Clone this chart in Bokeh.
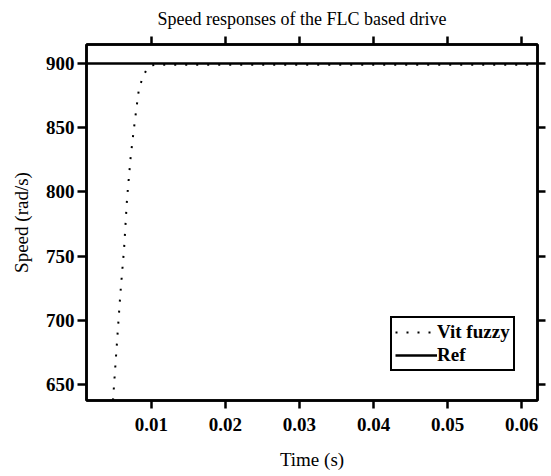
from bokeh.plotting import figure
from bokeh.models import (Range1d, FixedTicker, LinearAxis, Legend, LegendItem, Title)
from bokeh.embed import file_html
from bokeh.resources import INLINE

# ---- data ----
t_fuzzy = [0.0047, 0.0049, 0.0054, 0.0058, 0.0063, 0.0067, 0.0072, 0.0076, 0.0079,
           0.0083, 0.0088, 0.0094, 0.0099, 0.0105, 0.020, 0.030, 0.040, 0.050, 0.060, 0.0625]
speed_fuzzy = [629, 646, 688, 721, 756, 795, 828, 848, 862,
               880, 889, 896, 898.5, 899, 899, 899, 899, 899, 899, 899]
t_ref = [0.0, 0.0625]
speed_ref = [900, 900]
x_ticks = [0.01, 0.02, 0.03, 0.04, 0.05, 0.06]
y_ticks = [650, 700, 750, 800, 850, 900]
title_text = "Speed responses of the FLC based drive"
x_label = "Time (s)"
y_label = "Speed (rad/s)"
legend_labels = ["Vit fuzzy", "Ref"]

SERIF = "Liberation Serif"

p = figure(width=551, height=476, output_backend="svg", toolbar_location=None,
           x_range=Range1d(0.00122, 0.06216), y_range=Range1d(637.5, 914.8),
           min_border_left=86, min_border_right=14, min_border_top=44, min_border_bottom=76,
           x_axis_location=None, y_axis_location=None)
p.title = None
p.grid.visible = False
p.background_fill_color = "white"
p.border_fill_color = "white"
p.outline_line_color = "black"
p.outline_line_width = 2.5

def style_axis(ax, tick_out, labels=True):
    ax.axis_line_width = 2.5
    ax.axis_line_color = "black"
    ax.major_tick_line_width = 2.5
    ax.major_tick_line_color = "black"
    ax.major_tick_in = 0
    ax.major_tick_out = tick_out
    ax.minor_tick_line_color = None
    ax.major_label_text_font = SERIF
    ax.major_label_text_font_style = "bold"
    ax.major_label_text_font_size = "19px"
    ax.major_label_text_color = "black"
    if not labels:
        ax.major_label_text_color = None
        ax.major_label_standoff = 0

xb = LinearAxis(ticker=FixedTicker(ticks=x_ticks), axis_label=x_label)
style_axis(xb, 8)
xb.major_label_standoff = 9
xb.axis_label_standoff = 15
xb.axis_label_text_font = SERIF
xb.axis_label_text_font_style = "normal"
xb.axis_label_text_font_size = "19px"
xb.axis_label_text_color = "black"
p.add_layout(xb, "below")

yl = LinearAxis(ticker=FixedTicker(ticks=y_ticks), axis_label=y_label)
style_axis(yl, 9)
yl.major_label_standoff = 3
yl.axis_label_standoff = 11
yl.axis_label_text_font = SERIF
yl.axis_label_text_font_style = "normal"
yl.axis_label_text_font_size = "19px"
yl.axis_label_text_color = "black"
p.add_layout(yl, "left")

xt = LinearAxis(ticker=FixedTicker(ticks=x_ticks))
style_axis(xt, 8, labels=False)
p.add_layout(xt, "above")

yr = LinearAxis(ticker=FixedTicker(ticks=y_ticks))
style_axis(yr, 8, labels=False)
p.add_layout(yr, "right")

t = Title(text=title_text, align="left", offset=71, text_font=SERIF,
          text_font_style="normal", text_font_size="18px", text_color="black",
          vertical_align="top", standoff=11)
p.add_layout(t, "above")

r_fuzzy = p.line(t_fuzzy, speed_fuzzy, line_color="black", line_width=2, line_dash="2 9")
r_ref = p.line(t_ref, speed_ref, line_color="black", line_width=2.5)

legend = Legend(items=[LegendItem(label=legend_labels[0], renderers=[r_fuzzy]),
                       LegendItem(label=legend_labels[1], renderers=[r_ref])],
                location=(304, 29))
legend.label_text_font = SERIF
legend.label_text_font_style = "bold"
legend.label_text_font_size = "19px"
legend.label_text_color = "black"
legend.label_standoff = 0
legend.glyph_width = 42
legend.glyph_height = 18
legend.label_height = 18
legend.spacing = 1
legend.padding = 3
legend.margin = 0
legend.border_line_color = "black"
legend.border_line_alpha = 1
legend.border_line_width = 2
legend.background_fill_alpha = 1
p.add_layout(legend, "center")

open("out.html", "w").write(file_html(p, INLINE))
